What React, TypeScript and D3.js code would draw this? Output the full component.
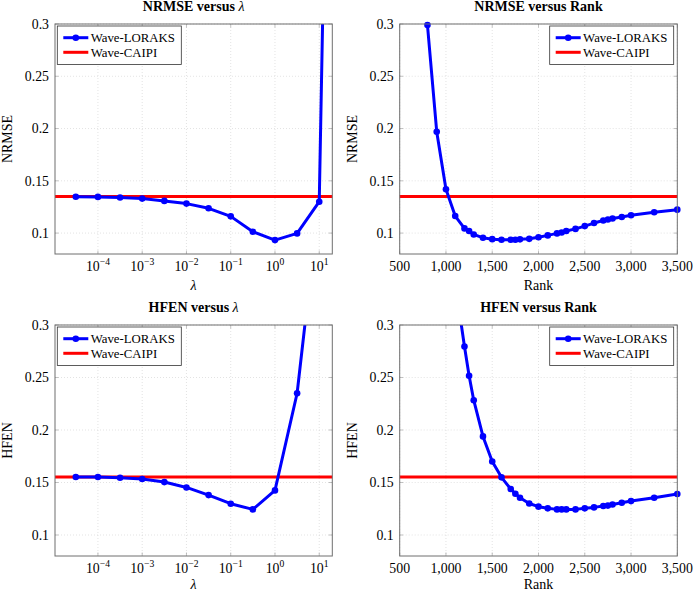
import React from 'react';
import * as d3 from 'd3';

// ---- data ----
const lambdaValues = [3.162e-5, 1e-4, 3.162e-4, 1e-3, 3.162e-3, 1e-2, 3.162e-2, 1e-1, 3.162e-1, 1, 3.162, 10, 31.62];
const nrmseVsLambda = [0.1347, 0.1346, 0.134, 0.133, 0.1308, 0.1282, 0.1237, 0.116, 0.1013, 0.0933, 0.0997, 0.130, 1.26];
const hfenVsLambda = [0.1552, 0.1552, 0.1545, 0.1533, 0.1504, 0.1453, 0.138, 0.1298, 0.1244, 0.1425, 0.235, 0.42];

const rankNrmse = [800, 900, 1000, 1100, 1200, 1250, 1300, 1400, 1500, 1600, 1700, 1750, 1800, 1900, 2000, 2100, 2200, 2250, 2300, 2400, 2500, 2600, 2700, 2750, 2800, 2900, 3000, 3250, 3500];
const nrmseVsRank = [0.299, 0.197, 0.142, 0.1163, 0.1045, 0.102, 0.0987, 0.0955, 0.0942, 0.0936, 0.0936, 0.0936, 0.094, 0.0945, 0.096, 0.0978, 0.0997, 0.1006, 0.102, 0.104, 0.1067, 0.1096, 0.112, 0.113, 0.114, 0.1154, 0.117, 0.120, 0.1224];

const rankHfen = [1100, 1200, 1250, 1300, 1400, 1500, 1600, 1700, 1750, 1800, 1900, 2000, 2100, 2200, 2250, 2300, 2400, 2500, 2600, 2700, 2750, 2800, 2900, 3000, 3250, 3500];
const hfenVsRank = [0.34, 0.2795, 0.2516, 0.2284, 0.1939, 0.170, 0.1549, 0.1438, 0.1393, 0.1355, 0.130, 0.127, 0.1254, 0.1244, 0.1244, 0.1244, 0.1244, 0.1254, 0.1263, 0.1276, 0.128, 0.129, 0.1307, 0.1323, 0.1355, 0.139];

const caipiNrmse = 0.135;
const caipiHfen = 0.1552;

const yTicks = [0.1, 0.15, 0.2, 0.25, 0.3];
const lambdaTickExps = [-4, -3, -2, -1, 0, 1];
const rankTicks = [500, 1000, 1500, 2000, 2500, 3000, 3500];

const seriesNames = ['Wave-LORAKS', 'Wave-CAIPI'];

const FONT = '"Liberation Serif", "Times New Roman", serif';

type PanelProps = {
  id: string;
  left: number;
  right: number;
  top: number;
  bottom: number;
  title: string;
  titleLambda: boolean;
  yLabel: string;
  xLabel: string;
  isLog: boolean;
  xs: number[];
  ys: number[];
  ref: number;
  legendRight: boolean;
};

function Panel(p: PanelProps) {
  const x: any = p.isLog
    ? d3.scaleLog().domain([Math.pow(10, -4.97), Math.pow(10, 1.295)]).range([p.left, p.right])
    : d3.scaleLinear().domain([500, 3500]).range([p.left, p.right]);
  const y = d3.scaleLinear().domain([0.08, 0.3]).range([p.bottom, p.top]);
  const pts: [number, number][] = p.xs.map((v, i) => [x(v), y(p.ys[i])]);
  const line = d3.line()(pts) || '';
  const xTickVals = p.isLog ? lambdaTickExps.map((e) => Math.pow(10, e)) : rankTicks;
  const grid = '#d0d0d0';
  const cx = (p.left + p.right) / 2;
  const cy = (p.top + p.bottom) / 2;
  const lx = p.legendRight ? p.right - 3.6 - 124 : p.left + 2.3;
  const ly = p.top + 2;
  const tickBase = p.bottom + 16.5;
  const xLabelY = Math.min(p.bottom + 35.5, 588.5);
  return (
    <g>
      <defs>
        <clipPath id={p.id}>
          <rect x={p.left} y={p.top} width={p.right - p.left} height={p.bottom - p.top} />
        </clipPath>
      </defs>
      {/* grid */}
      {yTicks.map((t) => (
        <line key={'gy' + t} x1={p.left} x2={p.right} y1={y(t)} y2={y(t)} stroke={grid} strokeWidth={0.6} strokeDasharray="1,2" />
      ))}
      {xTickVals.map((t) => (
        <line key={'gx' + t} x1={x(t)} x2={x(t)} y1={p.top} y2={p.bottom} stroke={grid} strokeWidth={0.6} strokeDasharray="1,2" />
      ))}
      {/* tick marks */}
      {yTicks.map((t) => (
        <g key={'ty' + t}>
          <line x1={p.left} x2={p.left + 3.5} y1={y(t)} y2={y(t)} stroke="#999" strokeWidth={0.6} />
          <line x1={p.right} x2={p.right - 3.5} y1={y(t)} y2={y(t)} stroke="#999" strokeWidth={0.6} />
        </g>
      ))}
      {xTickVals.map((t) => (
        <g key={'tx' + t}>
          <line x1={x(t)} x2={x(t)} y1={p.bottom} y2={p.bottom - 3.5} stroke="#999" strokeWidth={0.6} />
          <line x1={x(t)} x2={x(t)} y1={p.top} y2={p.top + 3.5} stroke="#999" strokeWidth={0.6} />
        </g>
      ))}
      {/* reference line */}
      <line x1={p.left} x2={p.right} y1={y(p.ref)} y2={y(p.ref)} stroke="#ff0000" strokeWidth={3} />
      {/* series */}
      <path d={line} fill="none" stroke="#0000ff" strokeWidth={3} strokeLinejoin="round" clipPath={`url(#${p.id})`} />
      {pts.map(([px, py], i) =>
        p.ys[i] <= 0.302 && px <= p.right + 1 ? <circle key={'m' + i} cx={px} cy={py} r={3.3} fill="#0000ff" /> : null
      )}
      {/* frame */}
      <rect x={p.left} y={p.top} width={p.right - p.left} height={p.bottom - p.top} fill="none" stroke="#6e6e6e" strokeWidth={1} />
      {/* y tick labels */}
      {yTicks.map((t) => (
        <text key={'ly' + t} x={p.left - 6} y={y(t) + 4.7} textAnchor="end" fontSize={13.8} fontFamily={FONT}>
          {String(t)}
        </text>
      ))}
      {/* x tick labels */}
      {p.isLog
        ? lambdaTickExps.map((e) => (
            <text key={'lx' + e} x={x(Math.pow(10, e))} y={tickBase} textAnchor="middle" fontSize={13.8} fontFamily={FONT}>
              10
              <tspan fontSize={9.6} dy={-5.5}>
                {e < 0 ? '\u2212' + Math.abs(e) : String(e)}
              </tspan>
            </text>
          ))
        : rankTicks.map((t) => (
            <text key={'lx' + t} x={x(t)} y={tickBase} textAnchor="middle" fontSize={13.8} fontFamily={FONT}>
              {d3.format(',')(t)}
            </text>
          ))}
      {/* axis labels */}
      <text x={cx} y={xLabelY} textAnchor="middle" fontSize={14} fontFamily={FONT} fontStyle={p.isLog ? 'italic' : 'normal'}>
        {p.xLabel}
      </text>
      <text transform={`translate(${p.left - 43},${cy}) rotate(-90)`} textAnchor="middle" fontSize={14} fontFamily={FONT}>
        {p.yLabel}
      </text>
      {/* title */}
      <text x={cx} y={p.top - 13} textAnchor="middle" fontSize={14} fontWeight="bold" fontFamily={FONT}>
        {p.title}
        {p.titleLambda ? <tspan fontStyle="italic" fontWeight="normal">λ</tspan> : null}
      </text>
      {/* legend */}
      <g>
        <rect x={lx} y={ly} width={124} height={38.5} fill="#fff" stroke="#333" strokeWidth={0.8} />
        <line x1={lx + 6} x2={lx + 31} y1={ly + 11.7} y2={ly + 11.7} stroke="#0000ff" strokeWidth={3} />
        <circle cx={lx + 18.5} cy={ly + 11.7} r={3.3} fill="#0000ff" />
        <text x={lx + 33.4} y={ly + 16} fontSize={12.8} fontFamily={FONT}>
          {seriesNames[0]}
        </text>
        <line x1={lx + 6} x2={lx + 31} y1={ly + 26.3} y2={ly + 26.3} stroke="#ff0000" strokeWidth={3} />
        <text x={lx + 33.4} y={ly + 30.6} fontSize={12.8} fontFamily={FONT}>
          {seriesNames[1]}
        </text>
      </g>
    </g>
  );
}

export default function App() {
  return (
    <svg width={693} height={593} style={{ position: 'absolute', left: 0, top: 0, background: '#fff' }}>
      <rect x={0} y={0} width={693} height={593} fill="#fff" />
      <Panel id="c1" left={55} right={332.3} top={24} bottom={254} title="NRMSE versus " titleLambda={true}
        yLabel="NRMSE" xLabel="λ" isLog={true} xs={lambdaValues} ys={nrmseVsLambda} ref={caipiNrmse} legendRight={false} />
      <Panel id="c2" left={399.7} right={677.3} top={24} bottom={254} title="NRMSE versus Rank" titleLambda={false}
        yLabel="NRMSE" xLabel="Rank" isLog={false} xs={rankNrmse} ys={nrmseVsRank} ref={caipiNrmse} legendRight={true} />
      <Panel id="c3" left={55} right={332.3} top={325} bottom={556} title="HFEN versus " titleLambda={true}
        yLabel="HFEN" xLabel="λ" isLog={true} xs={lambdaValues.slice(0, hfenVsLambda.length)} ys={hfenVsLambda} ref={caipiHfen} legendRight={false} />
      <Panel id="c4" left={399.7} right={677.3} top={325} bottom={556} title="HFEN versus Rank" titleLambda={false}
        yLabel="HFEN" xLabel="Rank" isLog={false} xs={rankHfen} ys={hfenVsRank} ref={caipiHfen} legendRight={true} />
    </svg>
  );
}
